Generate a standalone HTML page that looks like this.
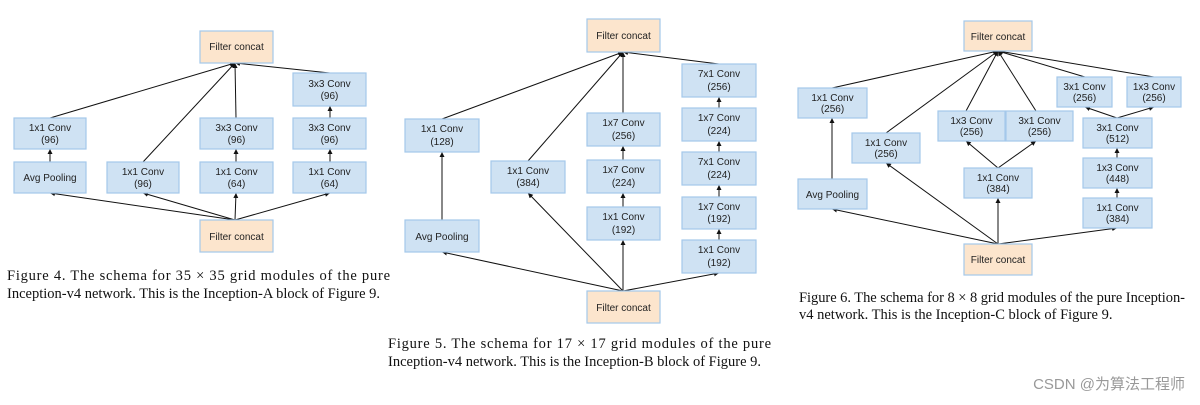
<!DOCTYPE html>
<html><head><meta charset="utf-8"><style>
html,body{margin:0;padding:0;background:#fff;width:1200px;height:405px;overflow:hidden}
svg{display:block}
.b{fill:#cfe2f3;stroke:#a4c8ea;stroke-width:1.2}
.o{fill:#fce5cd;stroke:#a4c8ea;stroke-width:1.2}
.t{font-family:"Liberation Sans",Arial,sans-serif;font-size:10px;fill:#222;text-anchor:middle}
.l{stroke:#111;stroke-width:1;fill:none}
.c{font-family:"Liberation Serif","Times New Roman",serif;font-size:14.5px;fill:#111}
</style></head><body>
<svg width="1200" height="405" viewBox="0 0 1200 405" xmlns="http://www.w3.org/2000/svg">
<defs><marker id="a" markerWidth="6" markerHeight="6" refX="5" refY="3" orient="auto" markerUnits="userSpaceOnUse"><path d="M0,0.5 L5,3 L0,5.5z" fill="#111"/></marker></defs>

<!-- Figure 4 -->
<g class="l" marker-end="url(#a)">
<line x1="50" y1="118" x2="235" y2="63"/>
<line x1="143" y1="162" x2="235" y2="63"/>
<line x1="236" y1="118" x2="235" y2="63"/>
<line x1="330" y1="73" x2="235" y2="63"/>
<line x1="50" y1="162" x2="50" y2="149"/>
<line x1="236" y1="162" x2="236" y2="149"/>
<line x1="330" y1="162" x2="330" y2="149"/>
<line x1="330" y1="118" x2="330" y2="106"/>
<line x1="235" y1="220" x2="50" y2="193"/>
<line x1="235" y1="220" x2="143" y2="193"/>
<line x1="235" y1="220" x2="236" y2="193"/>
<line x1="235" y1="220" x2="330" y2="193"/>
</g>
<rect class="o" x="200" y="31" width="73" height="32"/><text class="t" x="236.5" y="50">Filter concat</text>
<rect class="b" x="293" y="73" width="73" height="33"/><text class="t" x="329.5" y="87">3x3 Conv</text><text class="t" x="329.5" y="99">(96)</text>
<rect class="b" x="14" y="118" width="72" height="31"/><text class="t" x="50" y="131">1x1 Conv</text><text class="t" x="50" y="143">(96)</text>
<rect class="b" x="200" y="118" width="73" height="31"/><text class="t" x="236.5" y="131">3x3 Conv</text><text class="t" x="236.5" y="143">(96)</text>
<rect class="b" x="293" y="118" width="73" height="31"/><text class="t" x="329.5" y="131">3x3 Conv</text><text class="t" x="329.5" y="143">(96)</text>
<rect class="b" x="14" y="162" width="72" height="31"/><text class="t" x="50" y="181">Avg Pooling</text>
<rect class="b" x="107" y="162" width="72" height="31"/><text class="t" x="143" y="175">1x1 Conv</text><text class="t" x="143" y="187">(96)</text>
<rect class="b" x="200" y="162" width="73" height="31"/><text class="t" x="236.5" y="175">1x1 Conv</text><text class="t" x="236.5" y="187">(64)</text>
<rect class="b" x="293" y="162" width="73" height="31"/><text class="t" x="329.5" y="175">1x1 Conv</text><text class="t" x="329.5" y="187">(64)</text>
<rect class="o" x="200" y="220" width="73" height="32"/><text class="t" x="236.5" y="240">Filter concat</text>
<text class="c" x="7" y="280" textLength="383" lengthAdjust="spacing">Figure 4. The schema for 35 × 35 grid modules of the pure</text>
<text class="c" x="7" y="298">Inception-v4 network. This is the Inception-A block of Figure 9.</text>

<!-- Figure 5 -->
<g class="l" marker-end="url(#a)">
<line x1="442" y1="119" x2="623" y2="52"/>
<line x1="528" y1="161" x2="623" y2="52"/>
<line x1="623" y1="113" x2="623" y2="52"/>
<line x1="719" y1="64" x2="623" y2="52"/>
<line x1="442" y1="220" x2="442" y2="152"/>
<line x1="623" y1="160" x2="623" y2="146"/>
<line x1="623" y1="207" x2="623" y2="193"/>
<line x1="719" y1="108" x2="719" y2="97"/>
<line x1="719" y1="152" x2="719" y2="141"/>
<line x1="719" y1="197" x2="719" y2="185"/>
<line x1="719" y1="240" x2="719" y2="229"/>
<line x1="623" y1="291" x2="442" y2="252"/>
<line x1="623" y1="291" x2="528" y2="193"/>
<line x1="623" y1="291" x2="623" y2="240"/>
<line x1="623" y1="291" x2="719" y2="273"/>
</g>
<rect class="o" x="587" y="19" width="73" height="33"/><text class="t" x="623.5" y="39">Filter concat</text>
<rect class="b" x="682" y="64" width="74" height="33"/><text class="t" x="719" y="77">7x1 Conv</text><text class="t" x="719" y="90">(256)</text>
<rect class="b" x="682" y="108" width="74" height="33"/><text class="t" x="719" y="121">1x7 Conv</text><text class="t" x="719" y="134">(224)</text>
<rect class="b" x="682" y="152" width="74" height="33"/><text class="t" x="719" y="165">7x1 Conv</text><text class="t" x="719" y="178">(224)</text>
<rect class="b" x="682" y="197" width="74" height="32"/><text class="t" x="719" y="210">1x7 Conv</text><text class="t" x="719" y="222">(192)</text>
<rect class="b" x="682" y="240" width="74" height="33"/><text class="t" x="719" y="253">1x1 Conv</text><text class="t" x="719" y="266">(192)</text>
<rect class="b" x="587" y="113" width="73" height="33"/><text class="t" x="623.5" y="126">1x7 Conv</text><text class="t" x="623.5" y="139">(256)</text>
<rect class="b" x="587" y="160" width="73" height="33"/><text class="t" x="623.5" y="173">1x7 Conv</text><text class="t" x="623.5" y="186">(224)</text>
<rect class="b" x="587" y="207" width="73" height="33"/><text class="t" x="623.5" y="220">1x1 Conv</text><text class="t" x="623.5" y="233">(192)</text>
<rect class="b" x="405" y="119" width="74" height="33"/><text class="t" x="442" y="132">1x1 Conv</text><text class="t" x="442" y="145">(128)</text>
<rect class="b" x="491" y="161" width="74" height="32"/><text class="t" x="528" y="174">1x1 Conv</text><text class="t" x="528" y="186">(384)</text>
<rect class="b" x="405" y="220" width="74" height="32"/><text class="t" x="442" y="240">Avg Pooling</text>
<rect class="o" x="587" y="291" width="73" height="32"/><text class="t" x="623.5" y="311">Filter concat</text>
<text class="c" x="388" y="348" textLength="383" lengthAdjust="spacing">Figure 5. The schema for 17 × 17 grid modules of the pure</text>
<text class="c" x="388" y="366">Inception-v4 network. This is the Inception-B block of Figure 9.</text>

<!-- Figure 6 -->
<g class="l" marker-end="url(#a)">
<line x1="832" y1="88" x2="998" y2="51"/>
<line x1="886" y1="133" x2="998" y2="51"/>
<line x1="966" y1="111" x2="998" y2="51"/>
<line x1="1036" y1="111" x2="998" y2="51"/>
<line x1="1085" y1="77" x2="998" y2="51"/>
<line x1="1154" y1="77" x2="998" y2="51"/>
<line x1="832" y1="179" x2="832" y2="118"/>
<line x1="998" y1="168" x2="966" y2="141"/>
<line x1="998" y1="168" x2="1036" y2="141"/>
<line x1="1117" y1="118" x2="1085" y2="107"/>
<line x1="1117" y1="118" x2="1154" y2="107"/>
<line x1="1117" y1="158" x2="1117" y2="148"/>
<line x1="1117" y1="198" x2="1117" y2="188"/>
<line x1="998" y1="244" x2="832" y2="209"/>
<line x1="998" y1="244" x2="886" y2="163"/>
<line x1="998" y1="244" x2="998" y2="198"/>
<line x1="998" y1="244" x2="1117" y2="228"/>
</g>
<rect class="o" x="964" y="21" width="68" height="30"/><text class="t" x="998" y="40">Filter concat</text>
<rect class="b" x="798" y="88" width="69" height="30"/><text class="t" x="832.5" y="101">1x1 Conv</text><text class="t" x="832.5" y="112">(256)</text>
<rect class="b" x="798" y="179" width="69" height="30"/><text class="t" x="832.5" y="198">Avg Pooling</text>
<rect class="b" x="852" y="133" width="68" height="30"/><text class="t" x="886" y="146">1x1 Conv</text><text class="t" x="886" y="157">(256)</text>
<rect class="b" x="938" y="111" width="67" height="30"/><text class="t" x="971.5" y="124">1x3 Conv</text><text class="t" x="971.5" y="135">(256)</text>
<rect class="b" x="1006" y="111" width="67" height="30"/><text class="t" x="1039.5" y="124">3x1 Conv</text><text class="t" x="1039.5" y="135">(256)</text>
<rect class="b" x="964" y="168" width="68" height="30"/><text class="t" x="998" y="181">1x1 Conv</text><text class="t" x="998" y="192">(384)</text>
<rect class="b" x="1057" y="77" width="55" height="30"/><text class="t" x="1084.5" y="90">3x1 Conv</text><text class="t" x="1084.5" y="101">(256)</text>
<rect class="b" x="1127" y="77" width="54" height="30"/><text class="t" x="1154" y="90">1x3 Conv</text><text class="t" x="1154" y="101">(256)</text>
<rect class="b" x="1083" y="118" width="69" height="30"/><text class="t" x="1117.5" y="131">3x1 Conv</text><text class="t" x="1117.5" y="142">(512)</text>
<rect class="b" x="1083" y="158" width="69" height="30"/><text class="t" x="1117.5" y="171">1x3 Conv</text><text class="t" x="1117.5" y="182">(448)</text>
<rect class="b" x="1083" y="198" width="69" height="30"/><text class="t" x="1117.5" y="211">1x1 Conv</text><text class="t" x="1117.5" y="222">(384)</text>
<rect class="o" x="964" y="244" width="68" height="31"/><text class="t" x="998" y="263">Filter concat</text>
<text class="c" x="799" y="302" textLength="386" lengthAdjust="spacing">Figure 6. The schema for 8 × 8 grid modules of the pure Inception-</text>
<text class="c" x="799" y="319">v4 network. This is the Inception-C block of Figure 9.</text>

<text x="1185" y="389" text-anchor="end" style="font-family:'Liberation Sans','Noto Sans CJK SC',sans-serif;font-size:15px;fill:#999">CSDN @为算法工程师</text>
</svg>
</body></html>
